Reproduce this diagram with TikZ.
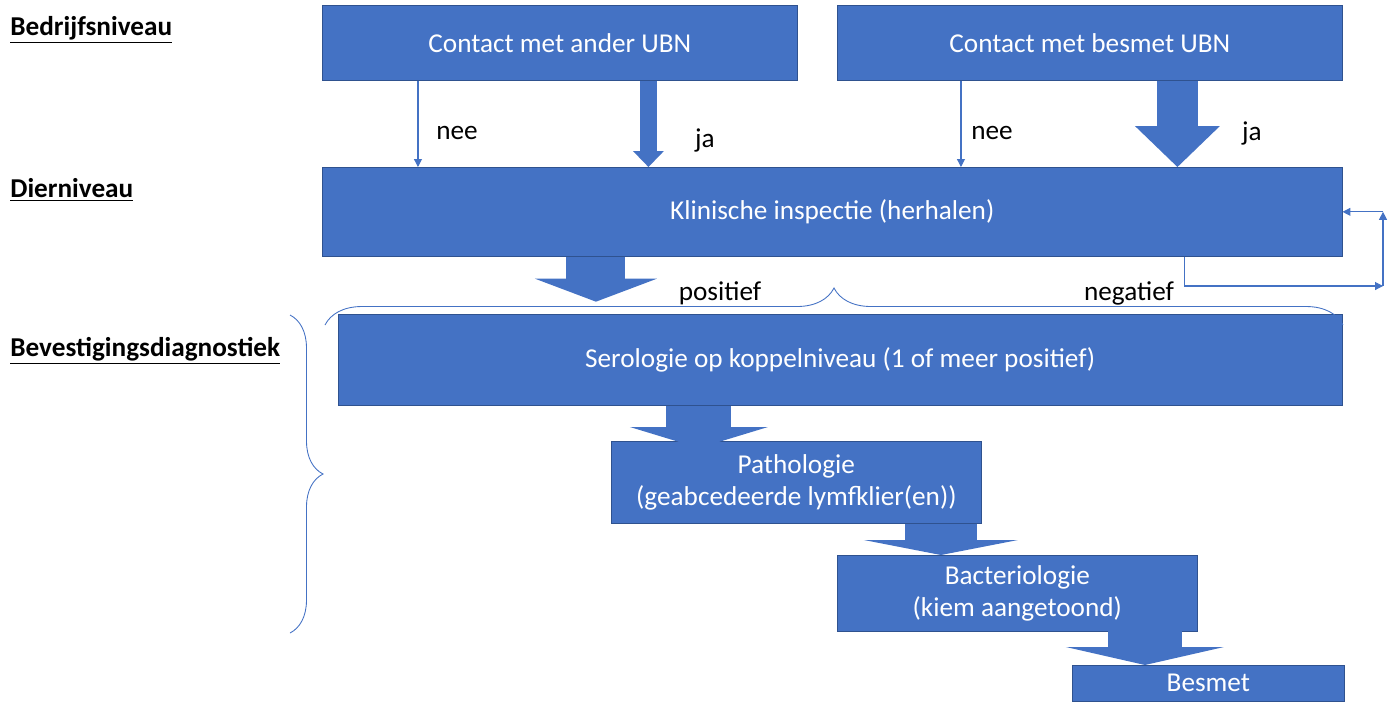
\documentclass[tikz,border=0pt]{standalone}
\usepackage{fontspec}
\setmainfont{Carlito}
\usetikzlibrary{arrows.meta,decorations.pathreplacing}
\definecolor{boxblue}{HTML}{4472C4}
\definecolor{boxedge}{HTML}{2F528F}
\begin{document}
\begin{tikzpicture}[x=0.02cm, y=-0.02cm,
  box/.style={fill=boxblue, draw=boxedge, line width=0.4pt, text=white, anchor=north west, align=center, inner sep=0pt, font=\fontsize{15.5}{18.7}\selectfont},
  lbl/.style={font=\fontsize{15.5}{18.7}\selectfont},
  level/.style={anchor=west, inner sep=0pt, font=\fontsize{15.5}{18.7}\selectfont\bfseries},
  thinarrow/.style={draw=boxblue, line width=0.6pt, -{Triangle[length=4.5pt, width=4.5pt]}},
  bigarrow/.style n args={3}{draw=boxblue, line width=#1, -{Triangle[width=#2, length=#3, line width=0pt]}},
  bracket/.style={draw=boxblue, line width=0.5pt, decorate, decoration={brace, amplitude=#1}}]
\useasboundingbox (0,0) rectangle (1397,701);
\clip (0,0) rectangle (1397,701);
\foreach \t/\y [count=\i] in {Bedrijfsniveau/30, Dierniveau/190, Bevestigingsdiagnostiek/351}
  \node[level] (lvl\i) at (10,\y) {\underline{\t}};
\node[box, minimum width=9.5cm, minimum height=1.5cm] (ander) at (322,5) {Contact met ander UBN};
\node[box, minimum width=10.1cm, minimum height=1.5cm] (besmetubn) at (837,5) {Contact met besmet UBN};
\node[box, minimum width=20.4cm, minimum height=1.78cm] (klin) at (322,167) {Klinische inspectie (herhalen)};
\node[box, minimum width=20.08cm, minimum height=1.82cm] (sero) at (338,314) {Serologie op koppelniveau (1 of meer positief)};
\node[box, minimum width=7.4cm, minimum height=1.64cm] (patho) at (611,441) {Pathologie\\(geabcedeerde lymfklier(en))};
\node[box, minimum width=7.2cm, minimum height=1.52cm] (bact) at (837,555) {Bacteriologie\\(kiem aangetoond)};
\node[box, minimum width=5.44cm, minimum height=0.72cm] (besmet) at (1072,665) {Besmet};
% nee / ja
\coordinate (n1) at ([xshift=1.92cm]ander.south west);
\coordinate (n2) at ([xshift=2.48cm]besmetubn.south west);
\draw[thinarrow] (n1) -- (n1 |- klin.north);
\draw[thinarrow] (n2) -- (n2 |- klin.north);
\coordinate (j1) at ([xshift=6.53cm]ander.south west);
\coordinate (j2) at ([xshift=6.81cm]besmetubn.south west);
\draw[bigarrow={0.34cm}{0.62cm}{0.32cm}] (j1) -- (j1 |- klin.north);
\draw[bigarrow={0.82cm}{1.7cm}{0.82cm}] (j2) -- (j2 |- klin.north);
\node[lbl] (nee1) at (457,133) {nee};
\node[lbl] (ja1) at (705,140) {ja};
\node[lbl] (nee2) at (992,133) {nee};
\node[lbl] (ja2) at (1252,133) {ja};
% positief / negatief
\coordinate (p1) at ([xshift=5.48cm]klin.south west);
\coordinate (p2) at ([xshift=5.48cm, yshift=-0.9cm]klin.south west);
\draw[bigarrow={1.18cm}{2.44cm}{0.46cm}] (p1) -- (p2);
\node[lbl] (pos) at (720,293) {positief};
\node[lbl] (neg) at (1129,293) {negatief};
\coordinate (fb1) at ([xshift=17.26cm]klin.south west);
\coordinate (fb2) at (1383,286);
\coordinate (fb3) at (fb2 |- klin.east);
\draw[thinarrow] (fb1) |- (fb2);
\draw[thinarrow] (fb2) -- (fb3);
\draw[thinarrow] (fb3) -- (klin.east);
\draw[bracket=0.74cm] (325,325) -- (1343,325);
\draw[bracket=0.66cm] (290,315) -- (290,633);
% bevestiging
\coordinate (s1) at ([xshift=7.22cm]sero.south west);
\coordinate (b1) at ([xshift=6.6cm]patho.south west);
\coordinate (m1) at ([xshift=6.16cm, yshift=0.06cm]bact.south west);
\draw[bigarrow={1.3cm}{2.76cm}{0.42cm}, shorten >=-0.14cm] (s1) -- (s1 |- patho.north);
\draw[bigarrow={1.44cm}{3.08cm}{0.3cm}] (b1) -- (b1 |- bact.north);
\draw[bigarrow={1.48cm}{3.16cm}{0.36cm}] (m1) -- (m1 |- besmet.north);
\end{tikzpicture}
\end{document}
